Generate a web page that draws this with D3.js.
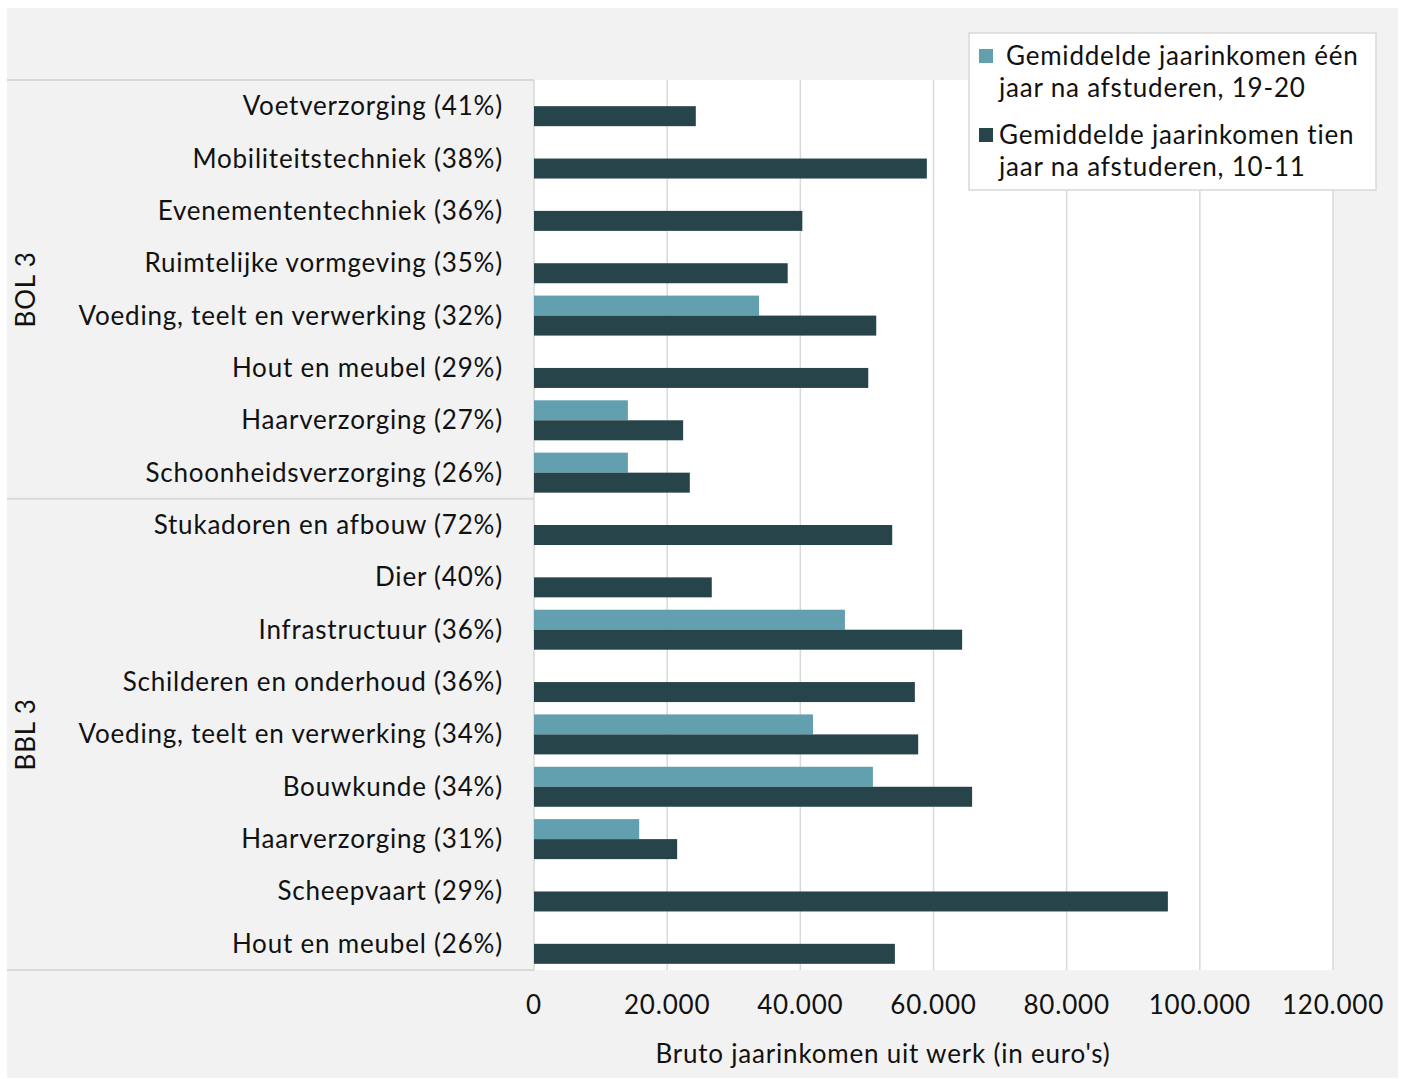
<!DOCTYPE html>
<html>
<head>
<meta charset="utf-8">
<script src="https://cdn.jsdelivr.net/npm/d3@7"></script>
<style>
  body { margin: 0; background: #fff; }
  svg text { font-family: "Lato", "Open Sans", sans-serif; fill: #111; letter-spacing: 0.8px; }
</style>
</head>
<body>
<div id="chart"></div>
<script>
  const groups = ["BOL 3", "BBL 3"];
  const bolCategories = [
    "Voetverzorging (41%)", "Mobiliteitstechniek (38%)", "Evenemententechniek (36%)",
    "Ruimtelijke vormgeving (35%)", "Voeding, teelt en verwerking (32%)", "Hout en meubel (29%)",
    "Haarverzorging (27%)", "Schoonheidsverzorging (26%)"
  ];
  const bblCategories = [
    "Stukadoren en afbouw (72%)", "Dier (40%)", "Infrastructuur (36%)",
    "Schilderen en onderhoud (36%)", "Voeding, teelt en verwerking (34%)", "Bouwkunde (34%)",
    "Haarverzorging (31%)", "Scheepvaart (29%)", "Hout en meubel (26%)"
  ];
  // gemiddelde jaarinkomen één jaar na afstuderen (19-20)
  const bolEenJaar = [null, null, null, null, 33800, null, 14100, 14100];
  const bblEenJaar = [null, null, 46700, null, 41900, 50900, 15800, null, null];
  // gemiddelde jaarinkomen tien jaar na afstuderen (10-11)
  const bolTienJaar = [24300, 59000, 40300, 38100, 51400, 50200, 22400, 23400];
  const bblTienJaar = [53800, 26700, 64300, 57200, 57700, 65800, 21500, 95200, 54200];
  const seriesNames = [
    ["Gemiddelde jaarinkomen één", "jaar na afstuderen, 19-20"],
    ["Gemiddelde jaarinkomen tien", "jaar na afstuderen, 10-11"]
  ];
  const colors = ["#62a0b0", "#264449"];
  const xTicks = [0, 20000, 40000, 60000, 80000, 100000, 120000];

  const W = 1402, H = 1079;
  const plot = {left: 534, right: 1333, top: 80, bottom: 970};
  const fontSize = "26px";

  const rows = [];
  bolCategories.forEach((c, i) => rows.push({id: "bol" + i, group: 0, label: c, v: [bolEenJaar[i], bolTienJaar[i]]}));
  bblCategories.forEach((c, i) => rows.push({id: "bbl" + i, group: 1, label: c, v: [bblEenJaar[i], bblTienJaar[i]]}));

  const svg = d3.select("#chart").append("svg")
    .attr("width", W).attr("height", H);

  svg.append("rect")
    .attr("x", 7).attr("y", 8).attr("width", 1391).attr("height", 1070)
    .attr("fill", "#f2f2f2");

  svg.append("rect")
    .attr("x", plot.left).attr("y", plot.top)
    .attr("width", plot.right - plot.left).attr("height", plot.bottom - plot.top)
    .attr("fill", "#fff");

  const x = d3.scaleLinear().domain([0, 120000]).range([plot.left, plot.right]);
  const y = d3.scaleBand().domain(rows.map(r => r.id))
    .range([plot.top, plot.bottom]).paddingInner(0.236).paddingOuter(0.118);
  const ySub = d3.scaleBand().domain([0, 1]).range([0, y.bandwidth()]);

  // gridlines
  svg.append("g").selectAll("line").data(xTicks).join("line")
    .attr("x1", d => x(d)).attr("x2", d => x(d))
    .attr("y1", plot.top).attr("y2", plot.bottom)
    .attr("stroke", "#d9d9d9").attr("stroke-width", 1.5);

  // bars
  const rowG = svg.append("g").selectAll("g").data(rows).join("g")
    .attr("transform", d => "translate(0," + y(d.id) + ")");
  rowG.selectAll("rect")
    .data(d => d.v.map((v, i) => ({v: v, i: i})).filter(e => e.v !== null))
    .join("rect")
    .attr("x", x(0))
    .attr("y", d => ySub(d.i))
    .attr("width", d => x(d.v) - x(0))
    .attr("height", ySub.bandwidth())
    .attr("fill", d => colors[d.i]);

  // category labels
  svg.append("g").selectAll("text").data(rows).join("text")
    .attr("x", 503)
    .attr("y", d => y(d.id) + y.bandwidth() / 2 - 1)
    .attr("text-anchor", "end")
    .attr("dominant-baseline", "central")
    .style("font-size", fontSize)
    .text(d => d.label);

  // group separators
  const groupBounds = [plot.top, y(rows[bolCategories.length].id) - y.step() * y.paddingInner() / 2, plot.bottom];
  svg.append("g").selectAll("line").data(groupBounds).join("line")
    .attr("x1", 7).attr("x2", plot.left)
    .attr("y1", d => d).attr("y2", d => d)
    .attr("stroke", "#d9d9d9").attr("stroke-width", 2);

  svg.append("g").selectAll("text").data(groups).join("text")
    .attr("transform", (d, i) => "translate(35," + (groupBounds[i] + groupBounds[i + 1]) / 2 + ") rotate(-90)")
    .attr("text-anchor", "middle")
    .style("font-size", fontSize)
    .text(d => d);

  // x axis tick labels
  svg.append("g").selectAll("text").data(xTicks).join("text")
    .attr("x", d => x(d))
    .attr("y", 1014)
    .attr("text-anchor", "middle")
    .style("font-size", fontSize)
    .text(d => d3.format(",")(d).replace(/,/g, "."));

  svg.append("text")
    .attr("x", 883)
    .attr("y", 1063)
    .attr("text-anchor", "middle")
    .style("font-size", fontSize)
    .text("Bruto jaarinkomen uit werk (in euro's)");

  // legend
  const legend = svg.append("g");
  legend.append("rect")
    .attr("x", 969).attr("y", 33).attr("width", 407).attr("height", 157)
    .attr("fill", "#fff").attr("stroke", "#d9d9d9").attr("stroke-width", 1.5);
  seriesNames.forEach((lines, i) => {
    const top = 49 + i * 79;
    legend.append("rect")
      .attr("x", 979).attr("y", top).attr("width", 14).attr("height", 14)
      .attr("fill", colors[i]);
    lines.forEach((t, j) => {
      legend.append("text")
        .attr("x", (i === 0 && j === 0) ? 1006 : 999)
        .attr("y", top + 16 + j * 32)
        .style("font-size", fontSize)
        .text(t);
    });
  });
</script>
</body>
</html>
